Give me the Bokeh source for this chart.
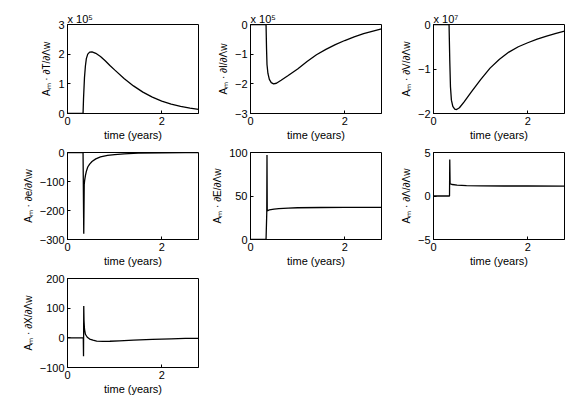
from bokeh.plotting import figure
from bokeh.layouts import column, row
from bokeh.models import Range1d, FixedTicker
from bokeh.embed import file_html
from bokeh.resources import INLINE

# ---- data ----
t_T = [0, 0.33, 0.34, 0.36, 0.38, 0.40, 0.43, 0.47, 0.52, 0.6, 0.7, 0.8, 0.9, 1.0, 1.2, 1.4, 1.6, 1.8, 2.0, 2.2, 2.4, 2.6, 2.78]
y_T = [0, 0, 0.5, 1.2, 1.6, 1.85, 2.0, 2.07, 2.08, 2.03, 1.92, 1.78, 1.62, 1.47, 1.18, 0.93, 0.72, 0.55, 0.42, 0.32, 0.24, 0.18, 0.14]

t_I = [0, 0.33, 0.34, 0.35, 0.37, 0.40, 0.44, 0.49, 0.55, 0.65, 0.8, 1.0, 1.2, 1.4, 1.6, 1.8, 2.0, 2.2, 2.4, 2.6, 2.78]
y_I = [0, 0, -0.8, -1.35, -1.65, -1.85, -1.96, -2.0, -1.98, -1.88, -1.72, -1.5, -1.25, -1.02, -0.84, -0.68, -0.54, -0.42, -0.31, -0.22, -0.15]

t_V = [0, 0.33, 0.345, 0.36, 0.38, 0.41, 0.45, 0.49, 0.55, 0.65, 0.8, 1.0, 1.2, 1.4, 1.6, 1.8, 2.0, 2.2, 2.4, 2.6, 2.78]
y_V = [0, 0, -0.8, -1.4, -1.7, -1.84, -1.9, -1.91, -1.87, -1.74, -1.52, -1.24, -0.98, -0.78, -0.62, -0.5, -0.41, -0.33, -0.26, -0.2, -0.15]

t_e = [0, 0.33, 0.345, 0.355, 0.365, 0.38, 0.40, 0.43, 0.47, 0.52, 0.6, 0.7, 0.85, 1.0, 1.2, 1.5, 2.0, 2.5, 2.78]
y_e = [0, 0, -280, -110, -95, -80, -65, -50, -40, -31, -22, -15, -10, -7, -4.5, -2.5, -1, -0.5, -0.3]

t_E = [0, 0.33, 0.345, 0.35, 0.355, 0.4, 0.5, 0.6, 0.8, 1.0, 1.5, 2.0, 2.78]
y_E = [0, 0, 30, 97, 33, 34, 35, 35.5, 36, 36.5, 36.8, 37, 37]

t_L = [0, 0.34, 0.345, 0.352, 0.36, 0.4, 0.5, 0.7, 1.0, 1.5, 2.0, 2.78]
y_L = [0, 0, 4.2, 1.4, 1.38, 1.32, 1.25, 1.2, 1.17, 1.15, 1.15, 1.14]

t_X = [0, 0.335, 0.34, 0.345, 0.35, 0.36, 0.38, 0.42, 0.47, 0.54, 0.62, 0.75, 0.9, 1.1, 1.4, 1.8, 2.2, 2.5, 2.78]
y_X = [0, 0, -62, 107, 60, 30, 12, 2, -4, -8, -11, -12, -11.5, -10, -8, -5.5, -3.5, -2, -1.5]

x_ticks = [0, 2]
panels = [
    # (t, y, ymin, ymax, yticks, label, multiplier)
    (t_T, y_T, 0, 3, [0, 1, 2, 3], "Aₘ · ∂T/∂Λw", "x 10⁵"),
    (t_I, y_I, -3, 0, [-3, -2, -1, 0], "Aₘ · ∂I/∂Λw", "x 10⁵"),
    (t_V, y_V, -2, 0, [-2, -1, 0], "Aₘ · ∂V/∂Λw", "x 10⁷"),
    (t_e, y_e, -300, 0, [-300, -200, -100, 0], "Aₘ · ∂e/∂Λw", None),
    (t_E, y_E, 0, 100, [0, 50, 100], "Aₘ · ∂E/∂Λw", None),
    (t_L, y_L, -5, 5, [-5, 0, 5], "Aₘ · ∂Λ/∂Λw", None),
    (t_X, y_X, -100, 200, [-100, 0, 100, 200], "Aₘ · ∂X/∂Λw", None),
]

FONT = "Liberation Sans"


def make(i, spec):
    t, y, ymin, ymax, yticks, lab, mult = spec
    col = i % 3
    r = i // 3
    left = 67 if col == 0 else 46
    right = 6 if col != 2 else 5
    frame_w = 131
    top = 24 if r == 0 else 9
    frame_h = 89 if r != 1 else 87
    bottom = 30
    p = figure(width=left + frame_w + right, height=top + frame_h + bottom,
               output_backend="svg", toolbar_location=None,
               x_range=Range1d(0, 2.78), y_range=Range1d(ymin, ymax),
               min_border_left=left, min_border_right=right,
               min_border_top=top, min_border_bottom=bottom)
    p.grid.visible = False
    p.outline_line_color = "black"
    p.outline_line_width = 1
    p.background_fill_color = "white"
    p.border_fill_color = "white"
    p.line(t, y, line_color="black", line_width=1.3)
    for ax in (p.xaxis[0], p.yaxis[0]):
        ax.axis_line_color = "black"
        ax.major_tick_in = 3
        ax.major_tick_out = 0
        ax.minor_tick_line_color = None
        ax.major_label_text_font = FONT
        ax.major_label_text_font_size = "11px"
        ax.major_label_text_color = "black"
        ax.axis_label_text_font = FONT
        ax.axis_label_text_font_style = "normal"
        ax.axis_label_text_color = "black"
    p.xaxis.ticker = FixedTicker(ticks=x_ticks)
    p.yaxis.ticker = FixedTicker(ticks=yticks)
    p.xaxis.axis_label = "time (years)"
    p.xaxis.axis_label_text_font_size = "11px"
    p.xaxis.axis_label_standoff = 1
    p.xaxis.major_label_standoff = 3
    p.yaxis.axis_label = lab
    p.yaxis.axis_label_text_font_size = "10px"
    p.yaxis.axis_label_standoff = 3
    p.yaxis.major_label_standoff = 3
    p.yaxis.major_label_orientation = "horizontal"
    if mult:
        p.title.text = mult
        p.title.align = "left"
        p.title.offset = 0
        p.title.standoff = 0
        p.title.text_font = FONT
        p.title.text_font_size = "11px"
        p.title.text_font_style = "normal"
        p.title.text_color = "black"
    return p


figs = [make(i, s) for i, s in enumerate(panels)]
layout = column(row(*figs[0:3]), row(*figs[3:6]), row(figs[6]))

open("out.html", "w").write(file_html(layout, INLINE))
